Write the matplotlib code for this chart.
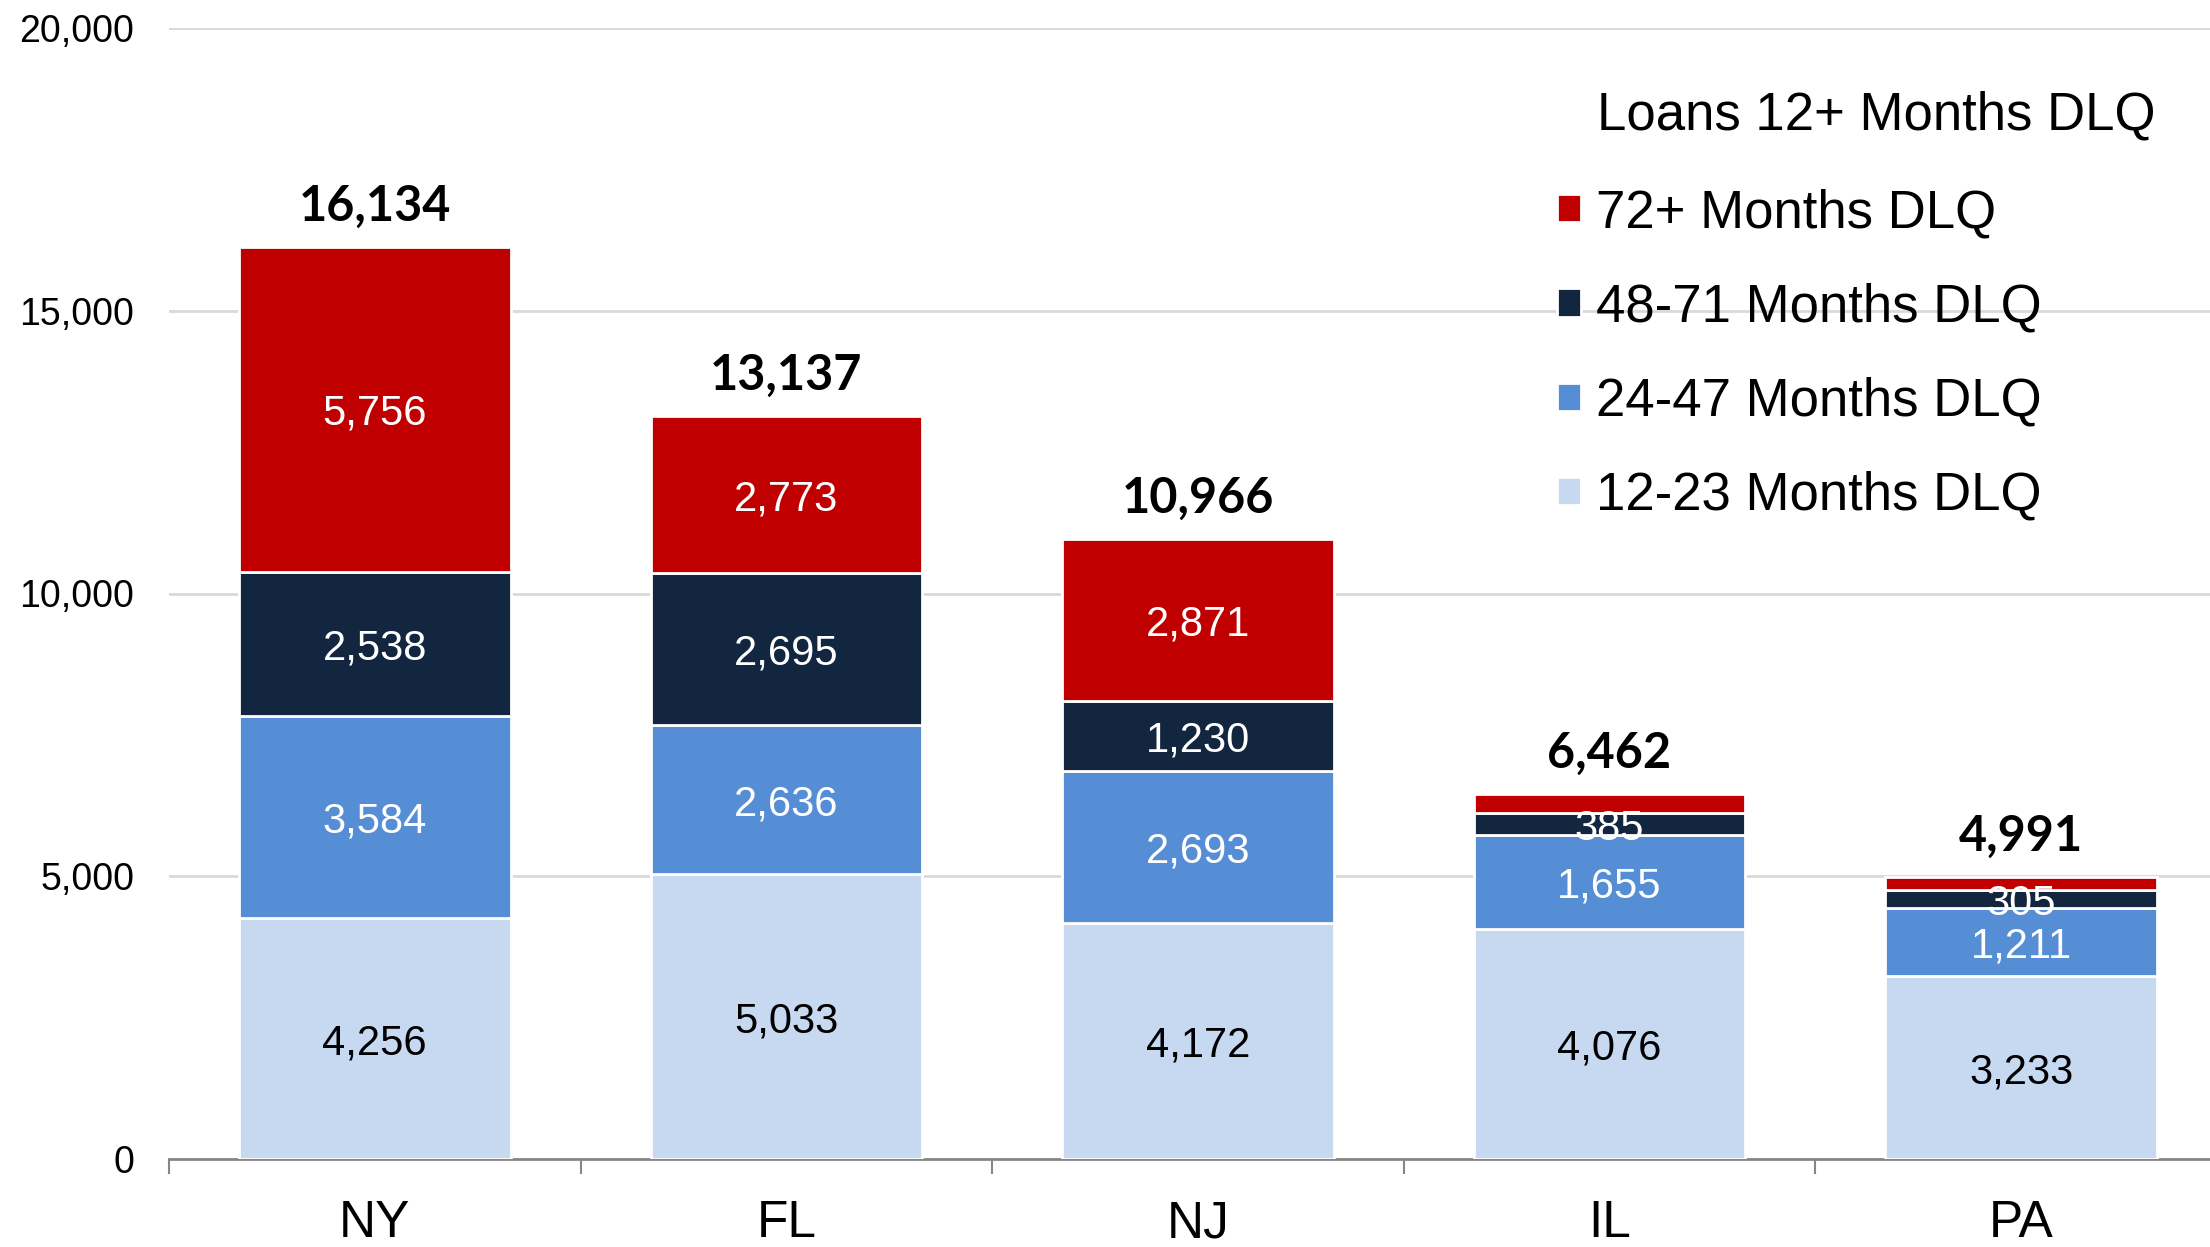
import matplotlib
matplotlib.use('Agg')
import matplotlib.pyplot as plt
import numpy as np

states = ['NY', 'FL', 'NJ', 'IL', 'PA']
dlq_12_23 = [4256, 5033, 4172, 4076, 3233]
dlq_24_47 = [3584, 2636, 2693, 1655, 1211]
dlq_48_71 = [2538, 2695, 1230, 385, 305]
dlq_72 = [5756, 2773, 2871, 346, 242]
totals = [16134, 13137, 10966, 6462, 4991]

series_names = ['12-23 Months DLQ', '24-47 Months DLQ', '48-71 Months DLQ', '72+ Months DLQ']
colors = ['#C6D9F1', '#558ED5', '#12263F', '#C00000']
text_colors = ['black', 'white', 'white', 'white']
# small red slices on IL / PA are not labelled in the original
show_label = [[True] * 5, [True] * 5, [True] * 5, [True, True, True, False, False]]

plt.rcParams['font.family'] = ['Liberation Sans', 'DejaVu Sans']

fig = plt.figure(figsize=(22.1, 12.47), dpi=100)
ax = fig.add_axes([169 / 2210, 1 - 1159 / 1247, 1 - 169 / 2210, (1159 - 28) / 1247])

x = np.arange(len(states))
bottom = np.zeros(len(states))
bars = []
for i, vals in enumerate([dlq_12_23, dlq_24_47, dlq_48_71, dlq_72]):
    b = ax.bar(x, vals, 0.66, bottom=bottom, color=colors[i], edgecolor='white',
               linewidth=2, label=series_names[i], zorder=3)
    bars.append(b)
    for j, v in enumerate(vals):
        if show_label[i][j]:
            ax.text(x[j], bottom[j] + v / 2 - 80, f'{v:,}', ha='center', va='center',
                    fontsize=30, color=text_colors[i], zorder=4)
    bottom = bottom + np.array(vals)

for j, t in enumerate(totals):
    ax.annotate(f'{t:,}', (x[j], t), xytext=(0, 13), textcoords='offset points',
                ha='center', va='bottom', fontsize=35, fontweight='bold',
                family=['Lato', 'DejaVu Sans'])

ax.set_yticks([0, 5000, 10000, 15000, 20000])
ax.set_yticklabels([f'{v:,}' for v in [0, 5000, 10000, 15000, 20000]])
ax.set_xticks(x)
ax.set_xticklabels(states)
ax.set_xticks(np.arange(-0.5, 5, 1), minor=True)
ax.set_ylim(0, 20000)
ax.set_xlim(-0.5, 4.459)
ax.tick_params(axis='y', length=0, labelsize=27, pad=25)
ax.tick_params(axis='x', which='major', length=0, labelsize=37, pad=29)
ax.tick_params(axis='x', which='minor', length=11, width=1.5, color='#868686', direction='out')
ax.yaxis.grid(True, color='#D9D9D9', linewidth=2, zorder=0)
ax.set_axisbelow(True)
for s in ['top', 'right', 'left']:
    ax.spines[s].set_visible(False)
ax.spines['bottom'].set_color('#868686')
ax.spines['bottom'].set_linewidth(2)

handles = [bars[3], bars[2], bars[1], bars[0]]
labels = [series_names[3], series_names[2], series_names[1], series_names[0]]
leg = fig.legend(handles, labels, loc='upper left', bbox_to_anchor=(1557 / 2210, 1 - 188 / 1247),
                 frameon=False, fontsize=38, handlelength=0.45, handleheight=0.45,
                 handletextpad=0.28, labelspacing=0.84, borderaxespad=0, borderpad=0)
fig.text(1597 / 2210, 1 - 116 / 1247, 'Loans 12+ Months DLQ', fontsize=38, ha='left', va='center')

fig.savefig('out.png', dpi=100)
